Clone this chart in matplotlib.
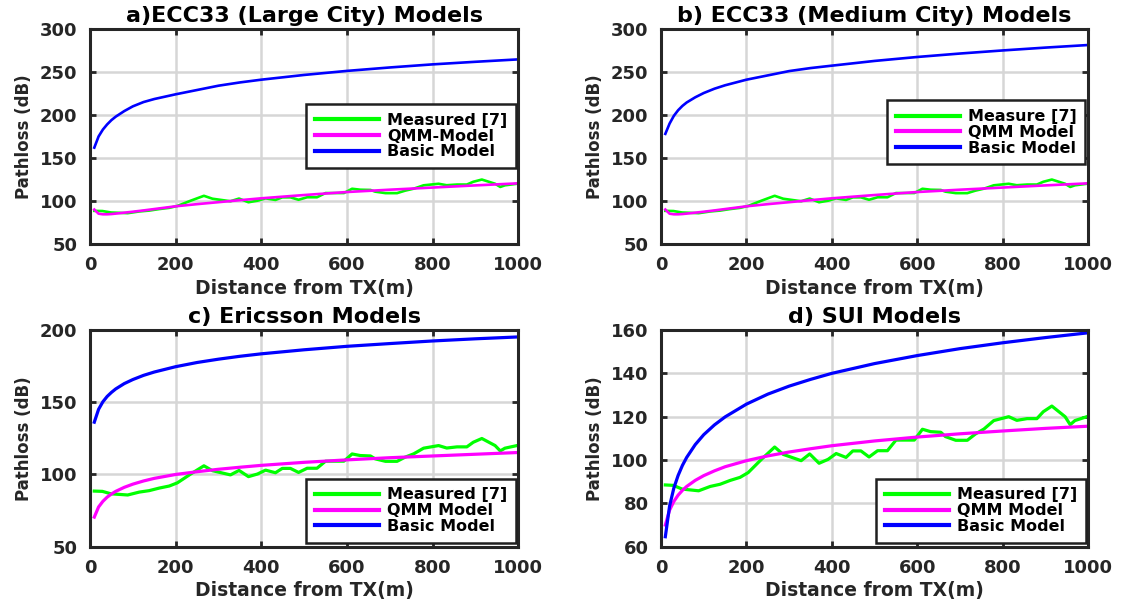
import numpy as np
import matplotlib
matplotlib.use('Agg')
import matplotlib.pyplot as plt

# Datos medidos [7] (igual en los cuatro paneles)
dist_meas = [10, 29, 49, 88, 115, 138, 162, 185, 204, 235, 266, 286, 328, 348, 370,
             391, 410, 433, 449, 468, 487, 507, 530, 550, 593, 612, 631, 655, 666, 690,
             717, 736, 756, 779, 814, 833, 857, 880, 895, 915, 946, 958, 969, 997]
pl_meas = [88.5, 88.3, 86.6, 85.8, 87.8, 88.8, 90.6, 92.0, 94.2, 100.3, 106.0, 102.6, 99.7, 102.8, 98.5,
           100.3, 103.0, 101.2, 104.2, 104.2, 101.4, 104.3, 104.3, 109.2, 109.2, 114.2, 113.1, 112.8, 110.8, 109.1,
           109.1, 112.0, 114.3, 118.2, 120.0, 118.3, 119.1, 119.1, 122.3, 124.9, 120.0, 116.3, 118.2, 120.0]

# Distancias para los modelos
dist_model = [10, 20, 30, 40, 50, 60, 80, 100, 125, 150, 200, 250, 300, 350, 400,
              500, 600, 700, 800, 900, 1000]

# a) ECC33 ciudad grande
ecc_large_basic = [162, 175, 183, 189, 194, 198, 204.5, 210, 215, 218.5, 224, 229, 234, 237.8, 241,
                   246.5, 251.2, 255.2, 258.8, 261.8, 264.6]
ecc_qmm = [90, 85.2, 84.5, 84.5, 84.8, 85.3, 86.4, 87.5, 89, 90.6, 93.8, 96.3, 98.6, 100.9, 103.1,
           106.9, 110.4, 113.1, 115.6, 118.1, 120.5]

# b) ECC33 ciudad mediana
ecc_medium_basic = [178, 190, 199, 205.5, 210.5, 214.5, 220.5, 225.5, 230.5, 234.5, 241, 246, 251, 254.5, 257.3,
                    262.8, 267.4, 271.4, 275, 278.3, 281.3]

# c) Ericsson
ericsson_basic = [136.2, 145.1, 150.3, 154.0, 156.8, 159.2, 162.9, 165.7, 168.6, 170.9, 174.6, 177.5, 179.8, 181.8, 183.5,
                  186.3, 188.7, 190.6, 192.4, 193.9, 195.2]
ericsson_qmm = [70.5, 77.5, 81.4, 84.3, 86.5, 88.3, 91.1, 93.3, 95.5, 97.3, 100.0, 101.9, 103.6, 105.0, 106.3,
                108.4, 110.1, 111.6, 112.8, 114.0, 115.2]

# d) SUI
sui_basic = [64.6, 78.8, 87.1, 92.9, 97.5, 101.2, 107.1, 111.7, 116.2, 119.9, 125.8, 130.4, 134.1, 137.2, 140.0,
             144.5, 148.2, 151.4, 154.1, 156.5, 158.7]
sui_qmm = [70.0, 76.9, 80.9, 83.8, 86.0, 87.8, 90.6, 92.8, 95.0, 96.9, 99.7, 101.9, 103.7, 105.2, 106.6,
           108.8, 110.6, 112.1, 113.4, 114.6, 115.6]

TEXT_COLOR = '#262626'


def draw_panel(ax, title, basic, qmm, labels, yticks, lw, legend_loc, legend_anchor):
    ax.plot(dist_meas, pl_meas, color='#00ff00', lw=lw, label=labels[0])
    ax.plot(dist_model, qmm, color='#ff00ff', lw=lw, label=labels[1])
    ax.plot(dist_model, basic, color='#0000ff', lw=lw, label=labels[2])

    ax.set_xlim(0, 1000)
    ax.set_ylim(yticks[0], yticks[-1])
    ax.set_xticks(np.arange(0, 1001, 200))
    ax.set_yticks(yticks)
    ax.grid(True, color='#d6d6d6', lw=1.8)
    ax.set_axisbelow(True)

    ax.tick_params(direction='in', top=True, right=True, length=4, width=2,
                   labelsize=13, pad=9, colors=TEXT_COLOR)
    for lab in ax.get_xticklabels() + ax.get_yticklabels():
        lab.set_fontweight('bold')
    for sp in ax.spines.values():
        sp.set_linewidth(2.2)
        sp.set_color(TEXT_COLOR)

    ax.set_title(title, fontsize=16, fontweight='bold', pad=5)
    ax.set_xlabel('Distance from TX(m)', fontsize=13.5, fontweight='bold', color=TEXT_COLOR, labelpad=3)
    ax.set_ylabel('Pathloss (dB)', fontsize=12, fontweight='bold', color=TEXT_COLOR, labelpad=5)

    leg = ax.legend(loc=legend_loc, bbox_to_anchor=legend_anchor,
                    prop={'weight': 'bold', 'size': 11.5}, fancybox=False, framealpha=1,
                    edgecolor='#202020', borderpad=0.55, labelspacing=0.05,
                    handlelength=4.0, handletextpad=0.5, borderaxespad=0)
    leg.get_frame().set_linewidth(1.8)
    for line in leg.get_lines():
        line.set_linewidth(3)


def main():
    fig = plt.figure(figsize=(11.21, 5.99), dpi=100)

    ax_a = fig.add_axes([0.0803, 0.5927, 0.382, 0.359])
    ax_b = fig.add_axes([0.5897, 0.5927, 0.381, 0.359])
    ax_c = fig.add_axes([0.0803, 0.0873, 0.382, 0.3618])
    ax_d = fig.add_axes([0.5897, 0.0873, 0.381, 0.3618])

    draw_panel(ax_a, 'a)ECC33 (Large City) Models', ecc_large_basic, ecc_qmm,
               ['Measured [7]', 'QMM-Model', 'Basic Model'], np.arange(50, 301, 50), 1.9,
               'upper right', (0.995, 0.651))
    draw_panel(ax_b, 'b) ECC33 (Medium City) Models', ecc_medium_basic, ecc_qmm,
               ['Measure [7]', 'QMM Model', 'Basic Model'], np.arange(50, 301, 50), 1.9,
               'upper right', (0.993, 0.668))
    draw_panel(ax_c, 'c) Ericsson Models', ericsson_basic, ericsson_qmm,
               ['Measured [7]', 'QMM Model', 'Basic Model'], np.arange(50, 201, 50), 2.3,
               'lower right', (0.995, 0.018))
    draw_panel(ax_d, 'd) SUI Models', sui_basic, sui_qmm,
               ['Measured [7]', 'QMM Model', 'Basic Model'], np.arange(60, 161, 20), 2.3,
               'lower right', (0.995, 0.018))

    fig.savefig('out.png', dpi=100)


if __name__ == "__main__":
    main()
